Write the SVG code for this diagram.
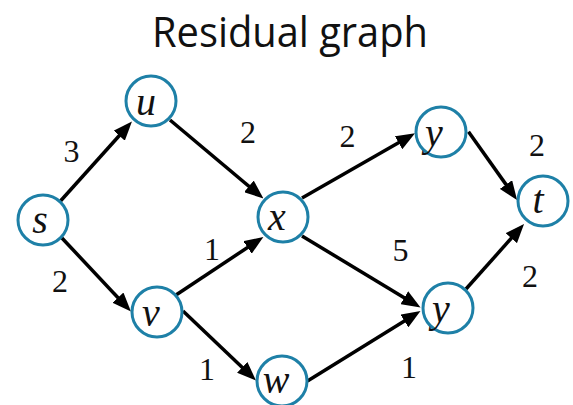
<svg xmlns="http://www.w3.org/2000/svg" width="573" height="405" viewBox="0 0 573 405">
<style>
.node circle{fill:#fff;stroke:#1e80a7;stroke-width:3}
.node text{font-family:"Liberation Serif",serif;font-style:italic;font-size:40px;fill:#111;text-anchor:middle}
.lbl{font-family:"Liberation Serif",serif;font-size:32px;fill:#111;text-anchor:middle}
.edges line{stroke:#000;stroke-width:3.5;marker-end:url(#ah)}
.title{font-family:"Open Sans",sans-serif;font-size:42px;fill:#111;text-anchor:middle}
</style>
<defs>
<marker id="ah" markerUnits="userSpaceOnUse" markerWidth="19" markerHeight="15" viewBox="0 0 19 15" refX="11" refY="7.5" orient="auto">
<path d="M0,0 L19,7.5 L0,15 z" fill="#000"/>
</marker>
</defs>
<rect width="573" height="405" fill="#fff"/>
<text class="title" x="290" y="47" textLength="276" lengthAdjust="spacingAndGlyphs">Residual graph</text>
<g class="edges">
<line x1="60.5" y1="201" x2="126.6" y2="127.5"/>
<line x1="61" y1="237" x2="125.5" y2="305.7"/>
<line x1="170" y1="120" x2="257.3" y2="193.4"/>
<line x1="176" y1="295" x2="256.7" y2="241.4"/>
<line x1="183" y1="311" x2="250.2" y2="375"/>
<line x1="302" y1="198" x2="408.1" y2="137.3"/>
<line x1="302" y1="236" x2="413.7" y2="303.4"/>
<line x1="307.5" y1="381" x2="413.7" y2="315.2"/>
<line x1="468.5" y1="131.7" x2="512.4" y2="193.5"/>
<line x1="466" y1="289" x2="518.7" y2="230"/>
</g>
<g class="labels">
<text class="lbl" x="71.5" y="161.5">3</text>
<text class="lbl" x="248" y="142.5">2</text>
<text class="lbl" x="347.5" y="146.5">2</text>
<text class="lbl" x="537" y="155.5">2</text>
<text class="lbl" x="60" y="291.5">2</text>
<text class="lbl" x="212" y="260">1</text>
<text class="lbl" x="400.5" y="260.5">5</text>
<text class="lbl" x="530" y="287">2</text>
<text class="lbl" x="207" y="380">1</text>
<text class="lbl" x="409" y="378">1</text>
</g>
<g id="s" class="node"><circle cx="43" cy="220" r="25"/><text x="40" y="233">s</text></g>
<g id="u" class="node"><circle cx="151" cy="101" r="25"/><text x="146" y="115">u</text></g>
<g id="x" class="node"><circle cx="283" cy="217" r="25"/><text x="277" y="230">x</text></g>
<g id="v" class="node"><circle cx="157" cy="312" r="25"/><text x="151" y="326">v</text></g>
<g id="w" class="node"><circle cx="282" cy="381" r="25"/><text x="276" y="393">w</text></g>
<g id="yt" class="node"><circle cx="441" cy="132" r="25"/><text x="434" y="146">y</text></g>
<g id="yb" class="node"><circle cx="448" cy="308" r="25"/><text x="441" y="322">y</text></g>
<g id="t" class="node"><circle cx="543" cy="201" r="25"/><text x="538" y="213">t</text></g>
</svg>
